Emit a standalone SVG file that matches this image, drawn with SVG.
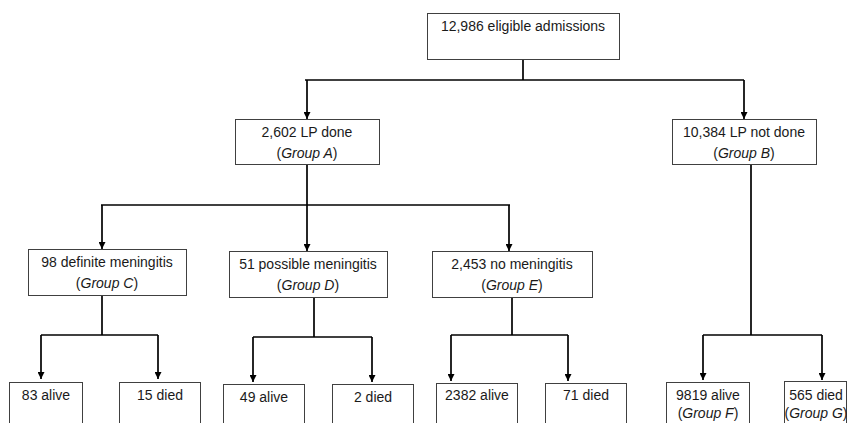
<svg xmlns="http://www.w3.org/2000/svg" width="847" height="423" viewBox="0 0 847 423">
<defs>
<marker id="ah" viewBox="0 0 8 8" refX="8" refY="4" markerWidth="7" markerHeight="7" markerUnits="userSpaceOnUse" orient="auto">
<path d="M0,0 L8,4 L0,8 Z" fill="#000"/>
</marker>
<style>
.box{fill:#fff;stroke:#404040;stroke-width:1}
.t{font-family:"Liberation Sans",Arial,sans-serif;font-size:14px;fill:#1a1a1a;text-anchor:middle}
.i{font-style:italic}
.c{fill:none;stroke:#000;stroke-width:1.7}
.a{marker-end:url(#ah)}
</style>
</defs>
<rect width="847" height="423" fill="#fff"/>
<g id="connectors">
<path class="c" d="M523,60 V80"/>
<path class="c" d="M305,80 H744"/>
<path class="c a" d="M307,80 V119"/>
<path class="c a" d="M744,80 V119"/>
<path class="c" d="M307,164 V205"/>
<path class="c" d="M101,205 H510"/>
<path class="c a" d="M102,205 V249"/>
<path class="c a" d="M307,205 V251"/>
<path class="c a" d="M509,205 V251"/>
<path class="c" d="M102,295 V335"/>
<path class="c" d="M41,335 H158"/>
<path class="c a" d="M41,335 V379"/>
<path class="c a" d="M158,335 V379"/>
<path class="c" d="M314,297 V337"/>
<path class="c" d="M253,337 H372"/>
<path class="c a" d="M253,337 V382"/>
<path class="c a" d="M372,337 V382"/>
<path class="c" d="M512,297 V335"/>
<path class="c" d="M451,335 H568"/>
<path class="c a" d="M451,335 V381"/>
<path class="c a" d="M568,335 V381"/>
<path class="c" d="M751,165 V335"/>
<path class="c" d="M703,335 H822"/>
<path class="c a" d="M703,335 V380"/>
<path class="c a" d="M822,335 V380"/>
</g>
<g id="n-total">
<rect class="box" x="427.5" y="13.5" width="192" height="46"/>
<text class="t" x="523" y="31">12,986 eligible admissions</text>
</g>
<g id="n-groupA">
<rect class="box" x="235.5" y="119.5" width="144" height="45"/>
<text class="t" x="307" y="137">2,602 LP done</text>
<text class="t" x="307" y="158">(<tspan class="i">Group A</tspan>)</text>
</g>
<g id="n-groupB">
<rect class="box" x="672.5" y="119.5" width="144" height="45"/>
<text class="t" x="744" y="137">10,384 LP not done</text>
<text class="t" x="744" y="158">(<tspan class="i">Group B</tspan>)</text>
</g>
<g id="n-groupC">
<rect class="box" x="28.5" y="249.5" width="158" height="46"/>
<text class="t" x="107" y="267">98 definite meningitis</text>
<text class="t" x="107" y="288">(<tspan class="i">Group C</tspan>)</text>
</g>
<g id="n-groupD">
<rect class="box" x="229.5" y="251.5" width="158" height="46"/>
<text class="t" x="308" y="269">51 possible meningitis</text>
<text class="t" x="308" y="290">(<tspan class="i">Group D</tspan>)</text>
</g>
<g id="n-groupE">
<rect class="box" x="432.5" y="251.5" width="160" height="46"/>
<text class="t" x="512" y="269">2,453 no meningitis</text>
<text class="t" x="512" y="290">(<tspan class="i">Group E</tspan>)</text>
</g>
<g id="n-c-alive">
<rect class="box" x="9.5" y="382.5" width="73" height="50"/>
<text class="t" x="46" y="400">83 alive</text>
</g>
<g id="n-c-died">
<rect class="box" x="119.5" y="382.5" width="81" height="50"/>
<text class="t" x="160" y="400">15 died</text>
</g>
<g id="n-d-alive">
<rect class="box" x="223.5" y="384.5" width="81" height="50"/>
<text class="t" x="264" y="402">49 alive</text>
</g>
<g id="n-d-died">
<rect class="box" x="332.5" y="384.5" width="81" height="50"/>
<text class="t" x="373" y="402">2 died</text>
</g>
<g id="n-e-alive">
<rect class="box" x="436.5" y="383.5" width="81" height="50"/>
<text class="t" x="477" y="400">2382 alive</text>
</g>
<g id="n-e-died">
<rect class="box" x="545.5" y="383.5" width="81" height="50"/>
<text class="t" x="586" y="400">71 died</text>
</g>
<g id="n-groupF">
<rect class="box" x="666.5" y="382.5" width="83" height="50"/>
<text class="t" x="708" y="400">9819 alive</text>
<text class="t" x="708" y="418">(<tspan class="i">Group F</tspan>)</text>
</g>
<g id="n-groupG">
<rect class="box" x="784.5" y="381.5" width="62" height="50"/>
<text class="t" x="816" y="400">565 died</text>
<text class="t" x="816" y="418">(<tspan class="i">Group G</tspan>)</text>
</g>
</svg>
